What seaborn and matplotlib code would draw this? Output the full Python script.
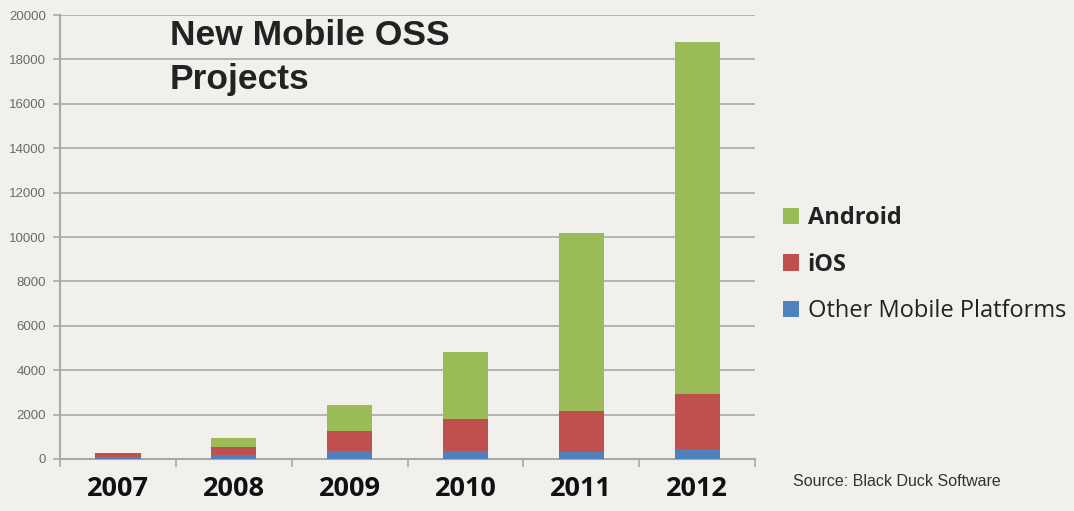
import numpy as np
import pandas as pd
import matplotlib
matplotlib.use("Agg")
import matplotlib.pyplot as plt
import seaborn as sns
from matplotlib.patches import Patch

# Données (nombre de nouveaux projets OSS mobiles)
annees = ["2007", "2008", "2009", "2010", "2011", "2012"]
autres = [110, 190, 340, 340, 315, 465]
ios = [140, 350, 935, 1475, 1860, 2475]
android = [30, 410, 1170, 3020, 8015, 15825]
series = ["Android", "iOS", "Other Mobile Platforms"]
couleurs = ["#9BBB59", "#C0504D", "#4F81BD"]
yticks = list(range(0, 20001, 2000))

FOND = "#F2F0ED"

sns.set_theme(style="white")
plt.rcParams["font.family"] = ["Liberation Sans", "DejaVu Sans"]

df = pd.DataFrame({"annee": annees, "autres": autres, "ios": ios, "android": android})
df["c_autres"] = df["autres"]
df["c_ios"] = df["autres"] + df["ios"]
df["c_android"] = df["c_ios"] + df["android"]

fig = plt.figure(figsize=(10.74, 5.11), dpi=100, facecolor=FOND)
ax = fig.add_axes([0.0559, 0.1018, 0.6471, 0.8688])
ax.set_facecolor(FOND)

# ─── Barres empilées (cumuls) ─────────────────────────────
for col, c in zip(["c_android", "c_ios", "c_autres"], couleurs):
    sns.barplot(data=df, x="annee", y=col, color=c, width=0.39,
                saturation=1, ax=ax, zorder=3, linewidth=0, edgecolor=c)

ax.set_ylim(0, 20000)
ax.set_xlim(-0.5, len(annees) - 0.5)
ax.set_yticks(yticks)
ax.set_yticklabels([str(v) for v in yticks], fontsize=9.5, color="#6A6A6A")
ax.grid(axis="y", color="#A8A8A8", linewidth=1.2, zorder=0)
ax.set_xlabel("")
ax.set_ylabel("")

for s in ["top", "right"]:
    ax.spines[s].set_visible(False)
ax.spines["left"].set_color("#A8A8A8")
ax.spines["left"].set_linewidth(1.5)
ax.spines["bottom"].set_color("#A8A8A8")
ax.spines["bottom"].set_linewidth(1.5)

ax.tick_params(axis="y", which="major", length=5, width=1.2, color="#A8A8A8",
               left=True, pad=5)
ax.set_xticks(np.arange(len(annees) + 1) - 0.5, minor=True)
ax.tick_params(axis="x", which="minor", length=6, width=1.2, color="#A8A8A8",
               bottom=True)
ax.tick_params(axis="x", which="major", length=0, pad=12)
ax.set_xticklabels(annees, fontsize=19.5, fontweight="bold", color="#111111",
                   family=["Open Sans", "DejaVu Sans"])

# ─── Titre dans le graphique ──────────────────────────────
ax.text(0.158, 0.99, "New Mobile OSS\nProjects", transform=ax.transAxes,
        fontsize=25.5, fontweight="bold", color="#222222", va="top",
        ha="left", linespacing=1.4)

# ─── Légende ──────────────────────────────────────────────
handles = [Patch(facecolor=c, edgecolor="none") for c in couleurs]
leg = fig.legend(handles, series, loc="upper left",
                 bbox_to_anchor=(0.709, 0.638), frameon=False,
                 handlelength=0.7, handleheight=0.7,
                 handletextpad=0.35, labelspacing=0.95,
                 prop={"family": ["Open Sans", "DejaVu Sans"], "size": 17})
for t in leg.get_texts()[:2]:
    t.set_fontweight("bold")
for t in leg.get_texts():
    t.set_color("#222222")

fig.text(0.738, 0.057, "Source: Black Duck Software", fontsize=11.5,
         color="#333333", ha="left", va="center")

fig.savefig("out.png", dpi=100, facecolor=FOND)
